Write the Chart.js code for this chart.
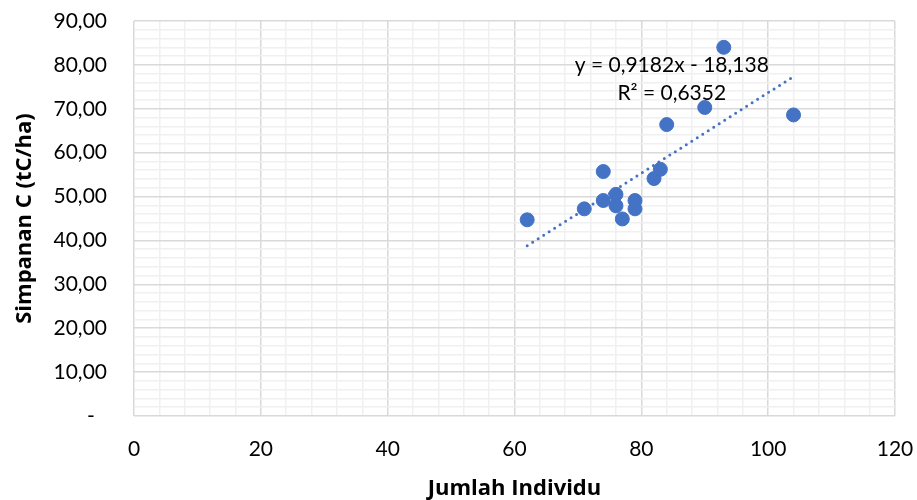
<!DOCTYPE html>
<html>
<head>
<meta charset="utf-8">
<script src="https://cdn.jsdelivr.net/npm/chart.js@4"></script>
<style>
  html, body { margin: 0; padding: 0; background: #fff; }
  #wrap { width: 917px; height: 500px; }
</style>
</head>
<body>
<div id="wrap"><canvas id="scatterChart" width="917" height="500"></canvas></div>
<script>
// data
const jumlahIndividu = [62, 71, 74, 74, 76, 76, 77, 79, 79, 82, 83, 84, 90, 93, 104];
const simpananC = [44.7, 47.2, 55.7, 49.1, 50.5, 47.9, 44.9, 49.1, 47.2, 54.1, 56.2, 66.4, 70.3, 84.0, 68.6];

// garis trend (linear) dari persamaan di grafik
const slope = 0.9182;
const intercept = -18.138;
const trendLabel = ['y = 0,9182x - 18,138', 'R\u00b2 = 0,6352'];

const FONT = 'Lato, "Open Sans", sans-serif';
const TITLE_FONT = '"Open Sans", Lato, sans-serif';
const BLUE = '#4472C4';

function trendPoints() {
    const xMin = Math.min(...jumlahIndividu);
    const xMax = Math.max(...jumlahIndividu);
    return [
        { x: xMin, y: slope * xMin + intercept },
        { x: xMax, y: slope * xMax + intercept }
    ];
}

// teks persamaan trendline
const trendTextPlugin = {
    id: 'trendText',
    afterDatasetsDraw(chart) {
        const { ctx, scales } = chart;
        const px = scales.x.getPixelForValue(84.8);
        const py = scales.y.getPixelForValue(80);
        ctx.save();
        ctx.font = '21px ' + FONT;
        ctx.fillStyle = '#000';
        ctx.textAlign = 'center';
        ctx.textBaseline = 'middle';
        ctx.fillText(trendLabel[0], px, py);
        ctx.fillText(trendLabel[1], px, py + 28);
        ctx.restore();
    }
};

document.addEventListener('DOMContentLoaded', function() {
    const ctx = document.getElementById('scatterChart');
    new Chart(ctx, {
        type: 'scatter',
        data: {
            datasets: [{
                label: 'Simpanan C',
                data: jumlahIndividu.map((x, i) => ({ x: x, y: simpananC[i] })),
                backgroundColor: BLUE,
                borderColor: BLUE,
                pointRadius: 7,
                order: 1
            }, {
                label: 'Linear',
                type: 'line',
                data: trendPoints(),
                borderColor: BLUE,
                borderWidth: 3,
                borderDash: [0, 6.5],
                borderCapStyle: 'round',
                pointRadius: 0,
                fill: false,
                order: 2
            }]
        },
        options: {
            responsive: false,
            animation: false,
            layout: {
                padding: { left: 0, right: 22, top: 21, bottom: 0 }
            },
            plugins: {
                legend: { display: false },
                tooltip: { enabled: false }
            },
            scales: {
                x: {
                    type: 'linear',
                    min: 0,
                    max: 120,
                    border: { display: false },
                    grid: {
                        drawTicks: false,
                        color: c => (c.tick && c.tick.value % 20 === 0) ? '#d9d9d9' : '#f0f0f0',
                        lineWidth: 1.5
                    },
                    ticks: {
                        stepSize: 4,
                        autoSkip: false,
                        maxRotation: 0,
                        padding: 21,
                        color: '#000',
                        font: { family: FONT, size: 21 },
                        callback: v => (v % 20 === 0 ? String(v) : '')
                    },
                    title: {
                        display: true,
                        text: 'Jumlah Individu',
                        color: '#000',
                        font: { family: TITLE_FONT, size: 22, weight: 'bold' },
                        padding: { top: 0, bottom: -2 }
                    },
                    afterFit: s => {
                        s.height = 84;
                        s.paddingLeft = 0;
                        s.paddingRight = 0;
                    }
                },
                y: {
                    type: 'linear',
                    min: 0,
                    max: 90,
                    border: { display: false },
                    grid: {
                        drawTicks: false,
                        color: c => (c.tick && c.tick.value % 10 === 0) ? '#d9d9d9' : '#f0f0f0',
                        lineWidth: 1.5
                    },
                    ticks: {
                        stepSize: 2,
                        autoSkip: false,
                        padding: 27,
                        color: '#000',
                        font: { family: FONT, size: 21 },
                        callback: v => {
                            if (v % 10 !== 0) return '';
                            if (v === 0) return '-\u2007';
                            return v.toFixed(2).replace('.', ',');
                        }
                    },
                    title: {
                        display: true,
                        text: 'Simpanan C (tC/ha)',
                        color: '#000',
                        font: { family: TITLE_FONT, size: 22, weight: 'bold' },
                        padding: { top: 12, bottom: 0 }
                    },
                    afterFit: s => {
                        s.width = 134;
                        s.paddingTop = 0;
                        s.paddingBottom = 0;
                    }
                }
            }
        },
        plugins: [trendTextPlugin]
    });
});
</script>
</body>
</html>
